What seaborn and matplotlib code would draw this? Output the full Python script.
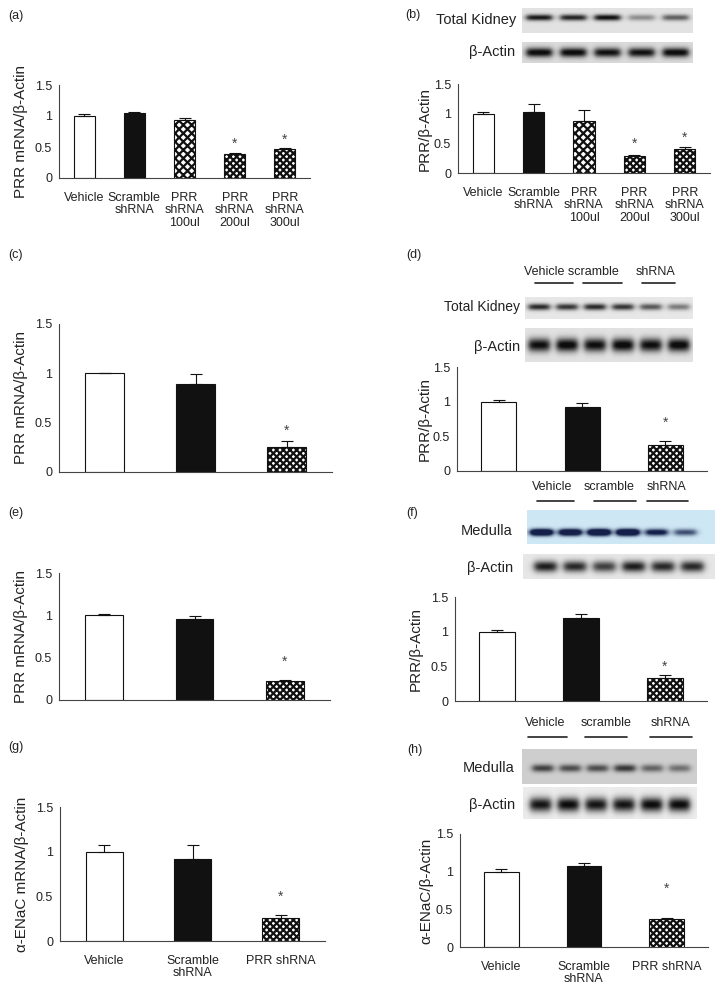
import numpy as np
import pandas as pd
import matplotlib
matplotlib.use('Agg')
import matplotlib.pyplot as plt
from matplotlib.colors import LinearSegmentedColormap
from matplotlib.lines import Line2D
import seaborn as sns

sns.set_style('white')
plt.rcParams['font.family'] = ['Liberation Sans', 'DejaVu Sans']
plt.rcParams['hatch.linewidth'] = 1.6

# categories
cats5 = ['Vehicle', 'Scramble\nshRNA', 'PRR\nshRNA\n100ul', 'PRR\nshRNA\n200ul', 'PRR\nshRNA\n300ul']
cats3 = ['Vehicle', 'Scramble\nshRNA', 'PRR shRNA']

# bar values (mean) and upper error
a_mean = [1.00, 1.05, 0.93, 0.39, 0.47]
a_err = [0.04, 0.01, 0.04, 0.02, 0.02]
b_mean = [1.00, 1.02, 0.87, 0.29, 0.41]
b_err = [0.02, 0.15, 0.20, 0.005, 0.03]
c_mean = [1.00, 0.89, 0.25]
c_err = [0.005, 0.10, 0.06]
d_mean = [1.00, 0.92, 0.38]
d_err = [0.03, 0.06, 0.05]
e_mean = [1.00, 0.96, 0.23]
e_err = [0.02, 0.03, 0.01]
f_mean = [1.00, 1.19, 0.33]
f_err = [0.03, 0.06, 0.05]
g_mean = [1.00, 0.92, 0.26]
g_err = [0.08, 0.16, 0.03]
h_mean = [1.00, 1.08, 0.37]
h_err = [0.03, 0.03, 0.01]

# significance stars: bar index -> star height
a_star = {3: 0.55, 4: 0.61}
b_star = {3: 0.50, 4: 0.60}
c_star = {2: 0.42}
d_star = {2: 0.69}
e_star = {2: 0.45}
f_star = {2: 0.50}
g_star = {2: 0.49}
h_star = {2: 0.77}

# western blot band intensities (darkness per lane)
b_tk_bands = [0.85, 0.80, 0.90, 0.35, 0.55]
b_actin_bands = [0.90, 0.90, 0.85, 0.85, 0.90]
d_tk_bands = [0.80, 0.75, 0.80, 0.75, 0.60, 0.45]
d_actin_bands = [0.90, 0.95, 0.90, 0.95, 0.90, 0.95]
f_med_bands = [0.90, 0.85, 0.95, 0.95, 0.60, 0.40]
f_actin_bands = [0.85, 0.80, 0.70, 0.85, 0.80, 0.80]
h_med_bands = [0.60, 0.55, 0.55, 0.65, 0.45, 0.40]
h_actin_bands = [0.90, 0.95, 0.90, 0.90, 0.95, 0.95]

W, H = 725, 993
TXT = '#222222'
fig = plt.figure(figsize=(W / 100, H / 100), dpi=100)


def box(l, t, r, b):
    return [l / W, 1 - b / H, (r - l) / W, (b - t) / H]


def label(x, y, s, size=9, ha='left'):
    fig.text(x / W, 1 - y / H, s, fontsize=size, ha=ha, va='center', color=TXT)


def uline(x0, x1, y):
    fig.add_artist(Line2D([x0 / W, x1 / W], [1 - y / H, 1 - y / H], color='#222', lw=1.2))


def bars(rect, cats, mean, err, stars, ylab, lab_x, show_x=True):
    l, t, r, b = rect
    ax = fig.add_axes(box(l, t, r, b))
    n = len(cats)
    df = pd.DataFrame({'group': cats, 'value': mean})
    sns.barplot(data=df, x='group', y='value', hue='group',
                palette=['white', '#111111'] + ['white'] * (n - 2),
                width=0.42, edgecolor='#111', linewidth=0.8, legend=False, ax=ax)
    for i, p in enumerate(ax.patches):
        if i >= 2:
            p.set_hatch('xxxx' if (n == 5 and i == 2) else 'xxxxx')
    ax.errorbar(range(n), mean, yerr=[np.zeros(n), err], fmt='none',
                ecolor='#111', elinewidth=0.8, capsize=4.5, capthick=0.8)
    for i, ys in stars.items():
        ax.text(i, ys, '*', ha='center', va='center', fontsize=10, color='#444')
    ax.set_ylim(0, 1.5)
    ax.set_xlim(-0.5, n - 0.5)
    ax.set_yticks([0, 0.5, 1, 1.5])
    ax.set_yticklabels(['0', '0.5', '1', '1.5'], fontsize=9, color=TXT)
    ax.set_xticks(np.arange(n + 1) - 0.5)
    ax.set_xticklabels([])
    ax.set_xticks(range(n), minor=True)
    ax.set_xticklabels(cats if show_x else [''] * n, minor=True, fontsize=9,
                       color=TXT, linespacing=1.05)
    ax.tick_params(axis='x', which='minor', length=0, pad=10)
    ax.tick_params(axis='both', which='major', length=3, width=0.8,
                   direction='out', color='#444', pad=2)
    ax.set_xlabel('')
    ax.set_ylabel(ylab, fontsize=11, color=TXT)
    # lab_x is the right edge of the rotated label, in pixels
    ax.yaxis.set_label_coords((lab_x - l) / (r - l), 0.5)
    sns.despine(ax=ax)
    for s in ['left', 'bottom']:
        ax.spines[s].set_color('#444')
        ax.spines[s].set_linewidth(0.8)
    return ax


def blot(rect, bands, bg=0.12, yc=0.5, thick=0.22, lo=0.0, hi=1.0, bw=0.75,
         cmap=None):
    l, t, r, b = rect
    ax = fig.add_axes(box(l, t, r, b))
    h, w = 60, 400
    yy = np.linspace(0, 1, h)[:, None]
    xx = np.linspace(0, 1, w)[None, :]
    img = np.full((h, w), float(bg))
    n = len(bands)
    step = (hi - lo) / n
    for i, v in enumerate(bands):
        c = lo + (i + 0.5) * step
        half = bw * step / 2
        xp = 1 / (1 + np.exp((np.abs(xx - c) - half) / 0.01))
        yp = np.exp(-((yy - yc) / (thick / 2)) ** 2)
        img = img + v * xp * yp
    if cmap is None:
        cmap = LinearSegmentedColormap.from_list('blot', ['#ffffff', '#0d0d0d'])
    ax.imshow(np.clip(img, 0, 1), cmap=cmap, vmin=0, vmax=1, aspect='auto',
              interpolation='bilinear')
    ax.set_axis_off()
    return ax


# (a)
label(8, 16, '(a)')
bars((59, 85, 310, 178), cats5, a_mean, a_err, a_star, 'PRR mRNA/β-Actin', 28)

# (b)
label(405, 15, '(b)')
label(516, 20, 'Total Kidney', 10.5, 'right')
label(515, 52, 'β-Actin', 10.5, 'right')
blot((522, 8, 693, 33), b_tk_bands, bg=0.12, yc=0.38, thick=0.25)
blot((522, 42, 693, 63), b_actin_bands, bg=0.15, yc=0.5, thick=0.45)
bars((458, 84, 710, 173), cats5, b_mean, b_err, b_star, 'PRR/β-Actin', 432)

# (c)
label(8, 255, '(c)')
bars((59, 324, 332, 472), cats3, c_mean, c_err, c_star, 'PRR mRNA/β-Actin', 28, False)

# (d)
label(406, 255, '(d)')
label(571, 272, 'Vehicle scramble', 9, 'center')
label(656, 272, 'shRNA', 9, 'center')
uline(535, 573, 283)
uline(583, 622, 283)
uline(642, 675, 283)
label(520, 307, 'Total Kidney', 10, 'right')
label(520, 347, 'β-Actin', 10.5, 'right')
blot((525, 297, 693, 319), d_tk_bands, bg=0.1, yc=0.45, thick=0.3)
blot((525, 328, 693, 362), d_actin_bands, bg=0.12, yc=0.5, thick=0.4)
bars((457, 367, 707, 471), cats3, d_mean, d_err, d_star, 'PRR/β-Actin', 432, False)

# (e)
label(8, 513, '(e)')
bars((59, 573, 330, 700), cats3, e_mean, e_err, e_star, 'PRR mRNA/β-Actin', 28, False)

# (f)
label(552, 487, 'Vehicle', 9, 'center')
label(609, 487, 'scramble', 9, 'center')
label(667, 487, 'shRNA', 9, 'center')
uline(537, 574, 501)
uline(594, 636, 501)
uline(647, 688, 501)
label(406, 513, '(f)')
label(513, 531, 'Medulla', 10.5, 'right')
label(513, 568, 'β-Actin', 10.5, 'right')
blue = LinearSegmentedColormap.from_list('blue', ['#ffffff', '#cfe8f6', '#14204a'])
blot((527, 510, 715, 544), f_med_bands, bg=0.5, yc=0.66, thick=0.2, lo=0.0, hi=0.92,
     cmap=blue)
blot((523, 554, 715, 579), f_actin_bands, bg=0.1, yc=0.5, thick=0.45, lo=0.04, hi=0.96)
bars((455, 597, 707, 701), cats3, f_mean, f_err, f_star, 'PRR/β-Actin', 423, False)

# (g)
label(8, 747, '(g)')
bars((60, 807, 325, 941), cats3, g_mean, g_err, g_star, 'α-ENaC mRNA/β-Actin', 29)

# (h)
label(545, 723, 'Vehicle', 9, 'center')
label(606, 723, 'scramble', 9, 'center')
label(671, 723, 'shRNA', 9, 'center')
uline(528, 567, 737)
uline(585, 627, 737)
uline(650, 692, 737)
label(407, 750, '(h)')
label(515, 768, 'Medulla', 10.5, 'right')
label(515, 805, 'β-Actin', 10.5, 'right')
blot((522, 749, 697, 784), h_med_bands, bg=0.2, yc=0.55, thick=0.22, lo=0.04, hi=0.98)
blot((523, 787, 697, 819), h_actin_bands, bg=0.08, yc=0.55, thick=0.45, lo=0.02, hi=0.98)
bars((460, 834, 708, 947), cats3, h_mean, h_err, h_star, 'α-ENaC/β-Actin', 433)

fig.savefig('out.png', dpi=100, facecolor='white')
